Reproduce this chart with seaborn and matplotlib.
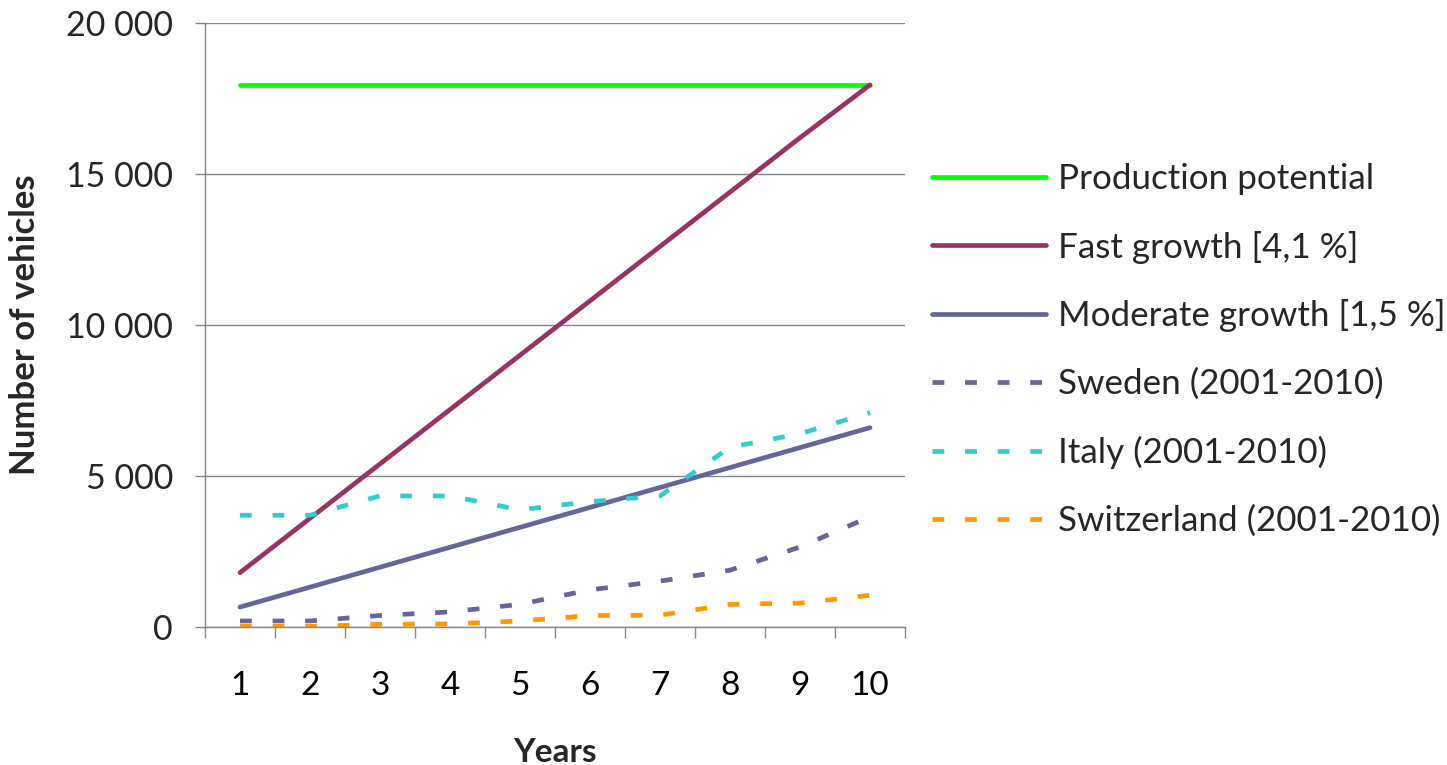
import numpy as np
import pandas as pd
import matplotlib
matplotlib.use("Agg")
import matplotlib.pyplot as plt
import seaborn as sns
from matplotlib.ticker import FuncFormatter, FixedLocator

years = [1, 2, 3, 4, 5, 6, 7, 8, 9, 10]
series_names = ["Production potential", "Fast growth [4,1 %]", "Moderate growth [1,5 %]",
                "Sweden (2001-2010)", "Italy (2001-2010)", "Switzerland (2001-2010)"]
production = [17950, 17950, 17950, 17950, 17950, 17950, 17950, 17950, 17950, 17950]
fast = [1800, 3600, 5400, 7200, 9000, 10800, 12600, 14400, 16200, 17950]
moderate = [660, 1320, 1980, 2640, 3300, 3960, 4620, 5280, 5940, 6600]
sweden = [200, 200, 380, 500, 750, 1230, 1520, 1880, 2650, 3650]
italy = [3700, 3700, 4340, 4340, 3880, 4150, 4340, 5950, 6400, 7100]
switzerland = [20, 20, 90, 100, 200, 380, 390, 750, 790, 1050]
y_ticks = [0, 5000, 10000, 15000, 20000]

colors = ["#00FF00", "#993366", "#666699", "#666699", "#33CCCC", "#FF9900"]

all_values = [production, fast, moderate, sweden, italy, switzerland]
df = pd.DataFrame({
    "Years": np.tile(years, len(series_names)),
    "value": np.concatenate(all_values),
    "series": np.repeat(series_names, len(years)),
})

sns.set_theme(style="white")
plt.rcParams["font.family"] = ["Lato", "DejaVu Sans"]

fig = plt.figure(figsize=(14.47, 7.65), dpi=100)
ax = fig.add_axes([205 / 1447, 1 - 627 / 765, 700 / 1447, (627 - 23) / 765])

lw = 3.4
dash = (2.5, 4.4)
dashes = {n: ("" if i < 3 else dash) for i, n in enumerate(series_names)}
sns.lineplot(data=df, x="Years", y="value", hue="series", style="series",
             hue_order=series_names, style_order=series_names,
             palette=dict(zip(series_names, colors)), dashes=dashes,
             linewidth=lw, ax=ax, legend=True)

ax.set_xlim(0.5, 10.5)
ax.set_ylim(0, 20000)
ax.yaxis.set_major_locator(FixedLocator(y_ticks))
ax.yaxis.set_major_formatter(FuncFormatter(lambda v, p: f"{v:,.0f}".replace(",", " ")))
ax.set_xticks(years)
ax.set_xticklabels([str(y) for y in years])
ax.set_xticks([y + 0.5 for y in [0] + years], minor=True)
ax.tick_params(axis="x", which="major", length=0, pad=32, labelsize=24, colors="black")
ax.tick_params(axis="x", which="minor", length=8, width=1, color="#868686", direction="out", bottom=True)
ax.tick_params(axis="y", which="major", length=7, width=1, color="#868686", pad=16, labelsize=24.5,
               left=True, direction="out")
ax.grid(axis="y", color="#868686", linewidth=1)
ax.grid(axis="x", visible=False)
for s in ["top", "right"]:
    ax.spines[s].set_visible(False)
for s in ["left", "bottom"]:
    ax.spines[s].set_color("#868686")
    ax.spines[s].set_linewidth(1)

ax.set_xlabel("Years", fontsize=24, fontweight="bold", labelpad=26)
ax.set_ylabel("Number of vehicles", fontsize=25, fontweight="bold", labelpad=18)

handles, labels = ax.get_legend_handles_labels()
ax.get_legend().remove()
fs = 25.2
fs_px = fs * 100 / 72
leg = fig.legend(handles, labels, loc="center left",
                 bbox_to_anchor=(932 / 1447, 1 - 350 / 765),
                 frameon=False, fontsize=fs, handlelength=114 / fs_px,
                 handletextpad=12 / fs_px, labelspacing=1.02,
                 borderpad=0, borderaxespad=0)
for h in leg.get_lines():
    h.set_linewidth(lw)

fig.savefig("out.png", dpi=100)
